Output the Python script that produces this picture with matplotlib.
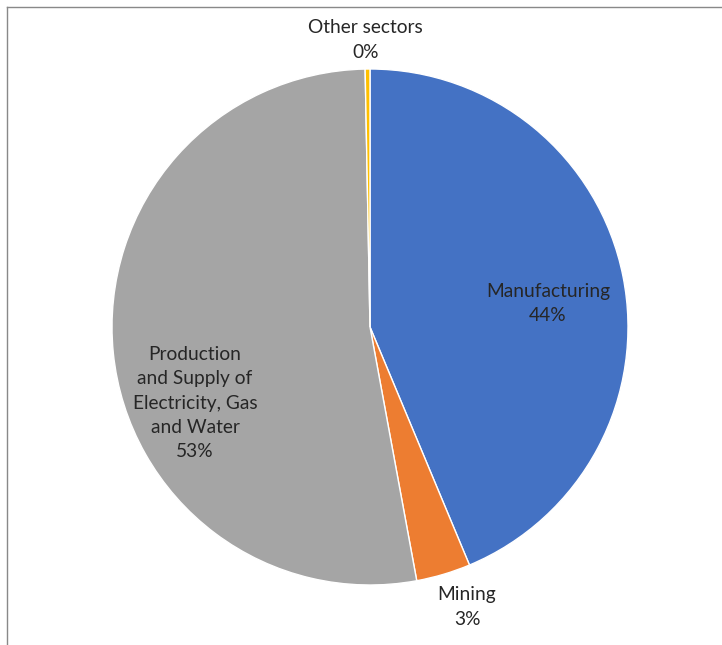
import numpy as np
import matplotlib.pyplot as plt
from matplotlib.lines import Line2D

# Datos del gráfico
sectors = ['Manufacturing', 'Mining',
           'Production\nand Supply of\nElectricity, Gas\nand Water', 'Other sectors']
shares = [43.7, 3.4, 52.6, 0.3]
colors = ['#4472C4', '#ED7D31', '#A5A5A5', '#FFC000']

# Posición de cada etiqueta (x, y en unidades del radio)
label_pos = [(0.69, 0.09), (0.376, -1.085), (-0.678, -0.295), (-0.016, 1.112)]

fig = plt.figure(figsize=(7.22, 6.45), dpi=100)
W, H = 722, 645
cx, cy, r = 370, 327, 258
ax = fig.add_axes([(cx - r) / W, (H - cy - r) / H, 2 * r / W, 2 * r / H])

wedges, _ = ax.pie(shares, colors=colors, startangle=90, counterclock=False,
                   radius=1, wedgeprops=dict(edgecolor='white', linewidth=1))
ax.set_xlim(-1, 1)
ax.set_ylim(-1, 1)
ax.set_aspect('equal')
ax.axis('off')

total = sum(shares)
for name, val, (x, y) in zip(sectors, shares, label_pos):
    pct = f'{round(val / total * 100):.0f}%'
    ax.text(x, y, f'{name}\n{pct}', ha='center', va='center', fontsize=13.8,
            family='Lato', color='#262626', linespacing=1.52, clip_on=False)

# Borde del área del gráfico (solo visible arriba y a la izquierda)
fig.add_artist(Line2D([7 / W, 1], [1 - 7 / H, 1 - 7 / H], transform=fig.transFigure,
                      color='#898989', linewidth=1))
fig.add_artist(Line2D([7 / W, 7 / W], [0, 1 - 7 / H], transform=fig.transFigure,
                      color='#898989', linewidth=1))

fig.savefig('out.png', dpi=100)
